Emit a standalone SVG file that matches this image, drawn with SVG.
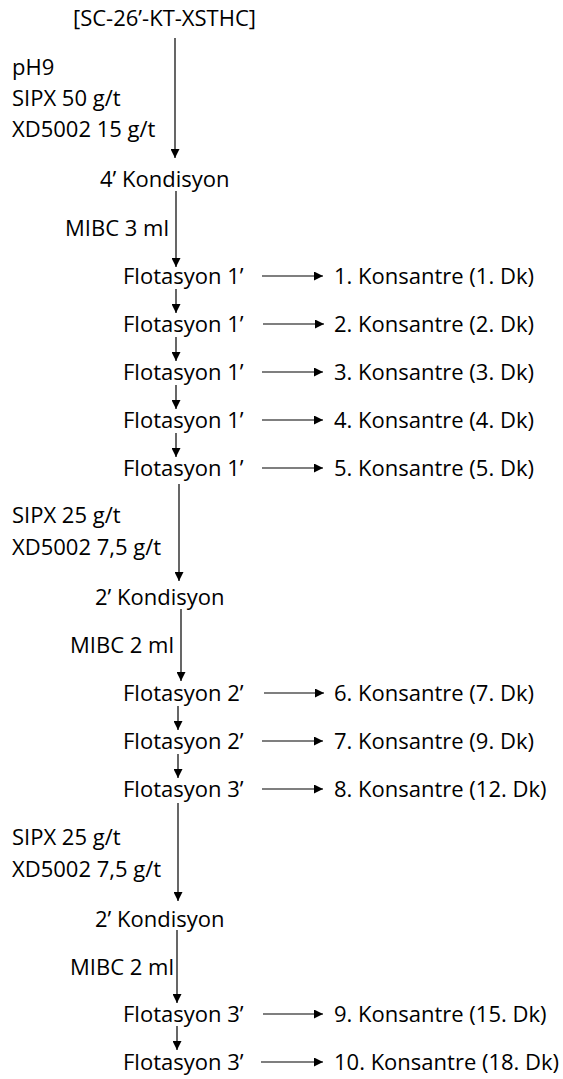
<svg xmlns="http://www.w3.org/2000/svg" width="563" height="1079" viewBox="0 0 563 1079">
<style>
text{font-family:"Open Sans","Noto Sans",sans-serif;font-size:22px;fill:#000}
.c line{stroke:#000;stroke-width:1.2;marker-end:url(#ah)}
</style>
<defs>
<marker id="ah" viewBox="0 0 10 10" refX="10" refY="5" markerWidth="9" markerHeight="9" markerUnits="userSpaceOnUse" orient="auto">
<path d="M0,0 L10,5 L0,10 z" fill="#000"/>
</marker>
</defs>
<rect width="563" height="1079" fill="#fff"/>
<g id="feed"><text x="73" y="26">[SC-26’-KT-XSTHC]</text></g>
<g id="reag1"><text x="12" y="75">pH9</text><text x="12" y="106">SIPX 50 g/t</text><text x="12" y="137">XD5002 15 g/t</text></g>
<g id="kond1"><text x="100" y="187">4’ Kondisyon</text></g>
<g id="mibc1"><text x="65" y="236">MIBC 3 ml</text></g>
<g id="f1"><text x="123" y="284">Flotasyon 1’</text></g>
<g id="f2"><text x="123" y="332">Flotasyon 1’</text></g>
<g id="f3"><text x="123" y="380">Flotasyon 1’</text></g>
<g id="f4"><text x="123" y="428">Flotasyon 1’</text></g>
<g id="f5"><text x="123" y="476">Flotasyon 1’</text></g>
<g id="k1"><text x="334" y="284">1. Konsantre (1. Dk)</text></g>
<g id="k2"><text x="334" y="332">2. Konsantre (2. Dk)</text></g>
<g id="k3"><text x="334" y="380">3. Konsantre (3. Dk)</text></g>
<g id="k4"><text x="334" y="428">4. Konsantre (4. Dk)</text></g>
<g id="k5"><text x="334" y="476">5. Konsantre (5. Dk)</text></g>
<g id="reag2"><text x="12" y="523">SIPX 25 g/t</text><text x="12" y="555">XD5002 7,5 g/t</text></g>
<g id="kond2"><text x="95" y="605">2’ Kondisyon</text></g>
<g id="mibc2"><text x="70" y="653">MIBC 2 ml</text></g>
<g id="f6"><text x="123" y="701">Flotasyon 2’</text></g>
<g id="f7"><text x="123" y="749">Flotasyon 2’</text></g>
<g id="f8"><text x="123" y="797">Flotasyon 3’</text></g>
<g id="k6"><text x="334" y="701">6. Konsantre (7. Dk)</text></g>
<g id="k7"><text x="334" y="749">7. Konsantre (9. Dk)</text></g>
<g id="k8"><text x="334" y="797">8. Konsantre (12. Dk)</text></g>
<g id="reag3"><text x="12" y="845">SIPX 25 g/t</text><text x="12" y="877">XD5002 7,5 g/t</text></g>
<g id="kond3"><text x="95" y="927">2’ Kondisyon</text></g>
<g id="mibc3"><text x="70" y="975">MIBC 2 ml</text></g>
<g id="f9"><text x="123" y="1022">Flotasyon 3’</text></g>
<g id="f10"><text x="123" y="1070">Flotasyon 3’</text></g>
<g id="k9"><text x="334" y="1022">9. Konsantre (15. Dk)</text></g>
<g id="k10"><text x="334" y="1070">10. Konsantre (18. Dk)</text></g>
<g id="connectors" class="c">
<line x1="175" y1="38" x2="175" y2="158"/>
<line x1="176" y1="191" x2="176" y2="267"/>
<line x1="176" y1="289" x2="176" y2="313"/>
<line x1="176" y1="337" x2="176" y2="361"/>
<line x1="176" y1="385" x2="176" y2="409"/>
<line x1="176" y1="433" x2="176" y2="457"/>
<line x1="179" y1="484" x2="179" y2="581"/>
<line x1="181" y1="609" x2="181" y2="681"/>
<line x1="178" y1="706" x2="178" y2="730"/>
<line x1="178" y1="754" x2="178" y2="778"/>
<line x1="178" y1="803" x2="178" y2="901"/>
<line x1="177" y1="930" x2="177" y2="1003"/>
<line x1="177" y1="1026" x2="177" y2="1050"/>
<line x1="262" y1="276" x2="323" y2="276"/>
<line x1="263" y1="324" x2="324" y2="324"/>
<line x1="262" y1="372" x2="323" y2="372"/>
<line x1="262" y1="420" x2="323" y2="420"/>
<line x1="262" y1="468" x2="323" y2="468"/>
<line x1="264" y1="693" x2="324" y2="693"/>
<line x1="262" y1="741" x2="323" y2="741"/>
<line x1="262" y1="789" x2="323" y2="789"/>
<line x1="263" y1="1014" x2="323" y2="1014"/>
<line x1="261" y1="1062" x2="323" y2="1062"/>
</g>
</svg>
